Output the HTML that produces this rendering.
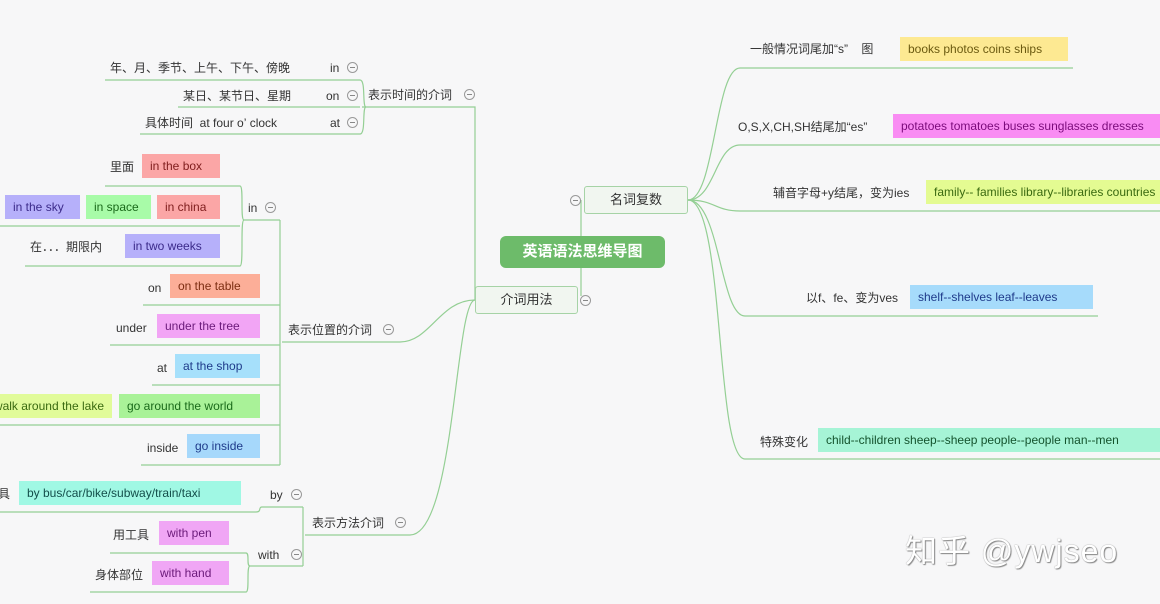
<!DOCTYPE html>
<html><head><meta charset="utf-8"><style>
html,body{margin:0;padding:0}
body{width:1160px;height:604px;background:#f7f7f8;position:relative;overflow:hidden;font-family:"Liberation Sans","Noto Sans CJK SC",sans-serif;font-size:12px;color:#333}
.t{position:absolute;white-space:nowrap;line-height:16px}
.b{position:absolute;height:24px;line-height:24px;padding:0 8px;white-space:nowrap;box-sizing:border-box;font-size:12px}
.c{position:absolute;width:11px;height:11px;border:1px solid #999;border-radius:50%;box-sizing:border-box}
.c:after{content:"";position:absolute;left:2px;right:2px;top:4px;height:1px;background:#888}
svg{position:absolute;left:0;top:0}
</style></head><body>
<svg width="1160" height="604" fill="none" stroke="#94cf94" stroke-width="1.2">
<!-- center connectors -->
<path d="M581 200 V296"/>
<!-- right branches -->
<path d="M688 200 C715 200 715 68 740 68 H1073"/>
<path d="M688 200 C715 200 715 145 740 145 H1160"/>
<path d="M688 200 C715 200 715 211 740 211 H1160"/>
<path d="M688 200 C720 200 720 316 745 316 H1098"/>
<path d="M688 200 C725 200 715 459 745 459 H1160"/>
<!-- left main -->
<path d="M475 300 V107 H362"/>
<path d="M360 80 H105"/><path d="M360 107 H178"/><path d="M360 134 H140"/>
<path d="M360 80 C366 80 362 107 366 107 M360 134 C366 134 362 107 366 107"/>
<path d="M475 300 C440 300 430 342 400 342 H282"/>
<path d="M475 300 C455 300 455 535 410 535 H305"/>
<!-- position children -->
<path d="M280 220 V465"/>
<path d="M280 220 H243"/>
<path d="M280 305 H143"/><path d="M280 345 H110"/><path d="M280 385 H152"/><path d="M280 425 H0"/><path d="M280 465 H141"/>
<!-- in children -->
<path d="M240 186 H105 M240 226 H0 M240 266 H25"/>
<path d="M240 186 C244 186 240 220 244 220 C240 220 244 266 240 266"/>
<!-- method children -->
<path d="M303 507 V566 M303 507 H262 C258 507 262 512 256 512 H0 M303 566 H250"/>
<path d="M250 566 C246 566 250 553 246 553 H110 M250 566 C246 566 250 592 246 592 H90"/>
</svg>

<!-- center -->
<div class="t" style="left:500px;top:236px;width:165px;height:32px;background:#6dbb6a;border-radius:6px;color:#fff;font-size:15px;line-height:32px;text-align:center;font-weight:bold">英语语法思维导图</div>
<div class="t" style="left:584px;top:186px;width:104px;height:28px;background:#f1f6f0;border:1px solid #a6d3a6;border-radius:3px;box-sizing:border-box;font-size:13px;line-height:26px;text-align:center">名词复数</div>
<div class="c" style="left:570px;top:195px"></div>
<div class="t" style="left:475px;top:286px;width:103px;height:28px;background:#f1f6f0;border:1px solid #a6d3a6;border-radius:3px;box-sizing:border-box;font-size:13px;line-height:26px;text-align:center">介词用法</div>
<div class="c" style="left:580px;top:295px"></div>

<!-- right -->
<div class="t" style="left:750px;top:41px">一般情况词尾加“s”&nbsp;&nbsp;&nbsp;&nbsp;图</div>
<div class="b" style="left:900px;top:37px;width:168px;background:#fde992;color:#6b5a10">books photos coins ships</div>
<div class="t" style="left:738px;top:119px">O,S,X,CH,SH结尾加“es”</div>
<div class="b" style="left:893px;top:114px;width:267px;background:#f98cf3;color:#7a0a7a">potatoes tomatoes buses sunglasses dresses</div>
<div class="t" style="left:773px;top:185px">辅音字母+y结尾，变为ies</div>
<div class="b" style="left:926px;top:180px;width:234px;background:#e4fb92;color:#3a6a10">family-- families library--libraries countries</div>
<div class="t" style="left:806px;top:290px">以f、fe、变为ves</div>
<div class="b" style="left:910px;top:285px;width:183px;background:#a6dbfb;color:#1e3a8a">shelf--shelves leaf--leaves</div>
<div class="t" style="left:760px;top:434px">特殊变化</div>
<div class="b" style="left:818px;top:428px;width:342px;background:#a6f4d6;color:#14532d">child--children sheep--sheep people--people man--men</div>

<!-- time -->
<div class="t" style="left:368px;top:87px">表示时间的介词</div><div class="c" style="left:464px;top:89px"></div>
<div class="t" style="left:110px;top:60px">年、月、季节、上午、下午、傍晚</div><div class="t" style="left:330px;top:60px">in</div><div class="c" style="left:347px;top:62px"></div>
<div class="t" style="left:183px;top:88px">某日、某节日、星期</div><div class="t" style="left:326px;top:88px">on</div><div class="c" style="left:347px;top:90px"></div>
<div class="t" style="left:145px;top:115px">具体时间&nbsp;&nbsp;at four o’&nbsp;clock</div><div class="t" style="left:330px;top:115px">at</div><div class="c" style="left:347px;top:117px"></div>

<!-- position -->
<div class="t" style="left:288px;top:322px">表示位置的介词</div><div class="c" style="left:383px;top:324px"></div>
<div class="t" style="left:248px;top:200px">in</div><div class="c" style="left:265px;top:202px"></div>
<div class="t" style="left:110px;top:159px">里面</div><div class="b" style="left:142px;top:154px;width:78px;background:#fba6a6;color:#7f1d1d">in the box</div>
<div class="b" style="left:5px;top:195px;width:75px;background:#b6b0fa;color:#3b2a8a">in the sky</div>
<div class="b" style="left:86px;top:195px;width:65px;background:#a8fba8;color:#1a6a1a">in space</div>
<div class="b" style="left:157px;top:195px;width:63px;background:#fba6a6;color:#7f1d1d">in china</div>
<div class="t" style="left:30px;top:239px">在．．．期限内</div><div class="b" style="left:125px;top:234px;width:95px;background:#b6b0fa;color:#3b2a8a">in two weeks</div>
<div class="t" style="left:148px;top:280px">on</div><div class="b" style="left:170px;top:274px;width:90px;background:#fcae98;color:#7c2d12">on the table</div>
<div class="t" style="left:116px;top:320px">under</div><div class="b" style="left:157px;top:314px;width:103px;background:#f2a5f5;color:#6b1a7a">under the tree</div>
<div class="t" style="left:157px;top:360px">at</div><div class="b" style="left:175px;top:354px;width:85px;background:#a6e0fb;color:#1e3a8a">at the shop</div>
<div class="b" style="left:-40px;top:394px;width:152px;background:#e1fb9a;color:#3a6a10;text-align:right">walk around the lake</div>
<div class="b" style="left:119px;top:394px;width:141px;background:#a9f298;color:#1a6a1a">go around the world</div>
<div class="t" style="left:147px;top:440px">inside</div><div class="b" style="left:187px;top:434px;width:73px;background:#a6d8fb;color:#1e3a8a">go inside</div>

<!-- method -->
<div class="t" style="left:312px;top:515px">表示方法介词</div><div class="c" style="left:395px;top:517px"></div>
<div class="t" style="left:270px;top:487px">by</div><div class="c" style="left:291px;top:489px"></div>
<div class="t" style="left:-2px;top:486px">具</div><div class="b" style="left:19px;top:481px;width:222px;background:#a0f8e4;color:#134e4a">by bus/car/bike/subway/train/taxi</div>
<div class="t" style="left:258px;top:547px">with</div><div class="c" style="left:291px;top:549px"></div>
<div class="t" style="left:113px;top:527px">用工具</div><div class="b" style="left:159px;top:521px;width:70px;background:#f0a6f5;color:#6b1a7a">with pen</div>
<div class="t" style="left:95px;top:567px">身体部位</div><div class="b" style="left:152px;top:561px;width:77px;background:#f0a6f5;color:#6b1a7a">with hand</div>

<!-- watermark -->
<div class="t" style="left:905px;top:533px;font-size:32px;line-height:36px;color:#fff;text-shadow:0 0 1px #777,1px 1px 1px #888;letter-spacing:1px">知乎 @ywjseo</div>
</body></html>
